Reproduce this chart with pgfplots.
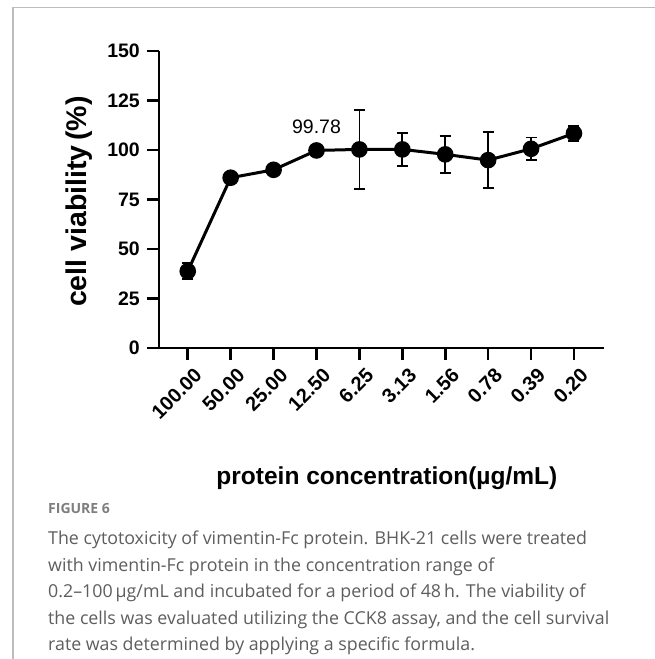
\documentclass[border=0pt]{standalone}
\usepackage{fontspec}
\setmainfont{Liberation Sans}
\newfontfamily\capfont{Open Sans}
\usepackage{pgfplots}
\pgfplotsset{compat=1.18}
\definecolor{capgray}{HTML}{5E5E5E}
\definecolor{framegray}{HTML}{BDBDBD}
\begin{document}
\begin{tikzpicture}
\path[use as bounding box] (0,0) rectangle (655pt,-659pt);
\fill[white] (0,0) rectangle (655pt,-659pt);
\draw[framegray, line width=1.2pt] (13pt,-659pt) -- (13pt,-7.5pt) -- (655pt,-7.5pt);
\begin{axis}[
  at={(159pt,-348pt)}, anchor=south west,
  scale only axis, width=445pt, height=297pt,
  xmin=-0.67, xmax=9.7, ymin=0, ymax=150,
  axis x line*=bottom, axis y line*=left,
  axis line style={line width=2.7pt, black},
  tick style={line width=2.7pt, black},
  major tick length=12pt, tick align=outside,
  ytick={0,25,50,75,100,125,150},
  xtick={0,...,9},
  xticklabels={100.00,50.00,25.00,12.50,6.25,3.13,1.56,0.78,0.39,0.20},
  /pgf/number format/assume math mode=true,
  yticklabel style={font=\fontsize{19.5}{22}\selectfont\bfseries, inner sep=0pt, xshift=-7pt},
  xticklabel style={font=\fontsize{20}{22}\selectfont\bfseries, rotate=45, anchor=east, inner sep=0pt, xshift=-1pt, yshift=-16pt},
  ylabel={cell viability\,(\%)},
  ylabel style={font=\fontsize{28.5}{31}\selectfont\bfseries, at={(axis description cs:-0.164,0.493)}, anchor=base, rotate=0},
  xlabel={protein concentration(µg/mL)},
  xlabel style={font=\fontsize{24.5}{28}\selectfont\bfseries, at={(axis description cs:0.512,-0.438)}, anchor=center},
  clip=false,
]
\addplot[black, line width=3pt, mark=*, mark size=6.8pt,
  error bars/.cd, y dir=both, y explicit,
  error bar style={line width=1.8pt},
  error mark options={line width=1.8pt, mark size=5.5pt, rotate=90}]
  table[x=x, y=y, y error=e] {
x y e
0 38.8 4.0
1 86.0 0.8
2 90.0 1.0
3 99.78 2.0
4 100.3 20.0
5 100.3 8.4
6 97.8 9.3
7 94.9 14.0
8 100.6 5.7
9 108.4 3.8
};
\node[font=\fontsize{19.5}{22}\selectfont] at (axis cs:3,111.6) {99.78};
\end{axis}
\node[anchor=base west, inner sep=0pt, font=\capfont\bfseries\fontsize{14}{16}\selectfont, text=capgray!80] at (48pt,-513pt) {FIGURE 6};
\begin{scope}[every node/.style={anchor=base west, font=\capfont\fontsize{17.8}{20}\selectfont, text=capgray, inner sep=0pt}]
\node at (48pt,-544pt) {The cytotoxicity of vimentin-Fc protein. BHK-21 cells were treated};
\node at (48pt,-571pt) {with vimentin-Fc protein in the concentration range of};
\node at (48pt,-597.5pt) {0.2–100\,µg/mL and incubated for a period of 48\,h. The viability of};
\node at (48pt,-624pt) {the cells was evaluated utilizing the CCK8 assay, and the cell survival};
\node at (48pt,-650.5pt) {rate was determined by applying a specific formula.};
\end{scope}
\end{tikzpicture}
\end{document}
